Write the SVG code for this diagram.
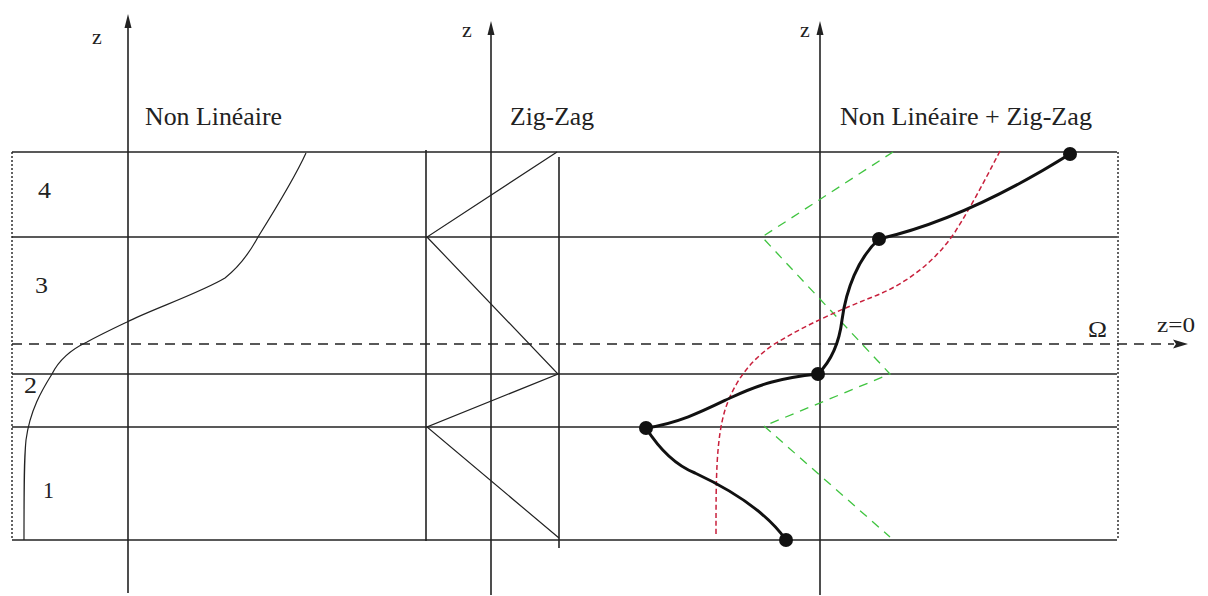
<svg xmlns="http://www.w3.org/2000/svg" width="1208" height="596" viewBox="0 0 1208 596">
<style>
text{font-family:"Liberation Serif","Times New Roman",serif;fill:#222}
.lbl{font-size:25px}
.num{font-size:22px}
.big{font-size:24px}
.ax{stroke:#222;stroke-width:1.6;fill:none}
.hl{stroke:#222;stroke-width:1.5;fill:none}
.dot{stroke:#222;stroke-width:1.4;stroke-dasharray:2 2;fill:none}
.thin{stroke:#222;stroke-width:1.2;fill:none}
.red{stroke:#c8203c;stroke-width:1.5;stroke-dasharray:5 3;fill:none}
.grn{stroke:#3fc43f;stroke-width:1.3;stroke-dasharray:9 7;fill:none}
.blk{stroke:#111;stroke-width:3;fill:none}
.node{fill:#111}
</style>
<rect width="1208" height="596" fill="#fff"/>
<g id="layers">
<line class="hl" x1="12" y1="152" x2="1117" y2="152"/>
<line class="hl" x1="12" y1="237" x2="1117" y2="237"/>
<line class="hl" x1="12" y1="374" x2="1117" y2="374"/>
<line class="hl" x1="12" y1="427" x2="1117" y2="427"/>
<line class="hl" x1="12" y1="540" x2="1117" y2="540"/>
<line class="dot" x1="12" y1="152" x2="12" y2="540"/>
<line class="dot" x1="1118" y1="152" x2="1118" y2="540"/>
<line stroke="#222" stroke-width="1.6" stroke-dasharray="10 7" x1="12" y1="344" x2="1174" y2="344"/>
<polygon points="1188,344 1173,339.5 1176,344 1173,348.5" fill="#222"/>
<text class="big" x="1088" y="337" textLength="19" lengthAdjust="spacingAndGlyphs">Ω</text>
<text class="num" x="1157" y="332" textLength="38" lengthAdjust="spacingAndGlyphs">z=0</text>
<text class="big" x="38" y="198" textLength="13" lengthAdjust="spacingAndGlyphs">4</text>
<text class="big" x="35" y="293" textLength="13" lengthAdjust="spacingAndGlyphs">3</text>
<text class="big" x="24" y="393" textLength="13" lengthAdjust="spacingAndGlyphs">2</text>
<text class="big" x="43" y="498" textLength="11" lengthAdjust="spacingAndGlyphs">1</text>
</g>
<g id="axes">
<line class="ax" x1="128" y1="20" x2="128" y2="593"/>
<polygon points="128,14 124.5,28 131.5,28" fill="#222"/>
<text class="num" x="92" y="44">z</text>
<line class="ax" x1="491" y1="26" x2="491" y2="595"/>
<polygon points="491,21 487.5,35 494.5,35" fill="#222"/>
<text class="num" x="462" y="37">z</text>
<line class="ax" x1="820" y1="26" x2="820" y2="595"/>
<polygon points="820,21 816.5,35 823.5,35" fill="#222"/>
<text class="num" x="800" y="37">z</text>
</g>
<g id="panel-nonlineaire">
<text class="lbl" x="145" y="125" textLength="137" lengthAdjust="spacingAndGlyphs">Non Linéaire</text>
<path class="thin" d="M306,153 C296,175 278,205 258,237 C250,252 240,266 225,278 C200,293 150,310 127,322 C108,331 96,337 87,342 C70,350 58,362 52,374 C42,390 30,410 26,440 C24,460 24,480 24,540"/>
</g>
<g id="panel-zigzag">
<text class="lbl" x="510" y="125" textLength="84" lengthAdjust="spacingAndGlyphs">Zig-Zag</text>
<line class="ax" x1="426" y1="150" x2="426" y2="541"/>
<line class="ax" x1="559" y1="157" x2="559" y2="548"/>
<polyline class="thin" points="557,152 427,237 558,374 427,427 559,538"/>
</g>
<g id="panel-combine">
<text class="lbl" x="840" y="125" textLength="252" lengthAdjust="spacingAndGlyphs">Non Linéaire + Zig-Zag</text>
<polyline class="grn" points="893,152 762,237 890,374 764,426 890,537"/>
<path class="red" d="M1000,151 C985,180 972,205 955,232 C935,262 905,285 870,298 C840,310 805,325 773,345 C748,362 733,385 725,410 C716,440 716,480 716,535"/>
<path class="blk" d="M1070,154 Q966,219 879,239"/>
<path class="blk" d="M879,239 C858,258 846,290 842,320 C839,345 830,362 818,374"/>
<path class="blk" d="M818,374 C780,378 760,384 730,398 C705,410 680,423 646,428"/>
<path class="blk" d="M646,428 C660,450 675,465 695,473 C725,487 765,510 786,540"/>
</g>
<g id="nodes">
<circle id="n1" class="node" cx="1070" cy="154" r="7"/>
<circle id="n2" class="node" cx="879" cy="239" r="7"/>
<circle id="n3" class="node" cx="818" cy="374" r="7"/>
<circle id="n4" class="node" cx="646" cy="428" r="7"/>
<circle id="n5" class="node" cx="786" cy="540" r="7"/>
</g>
</svg>
